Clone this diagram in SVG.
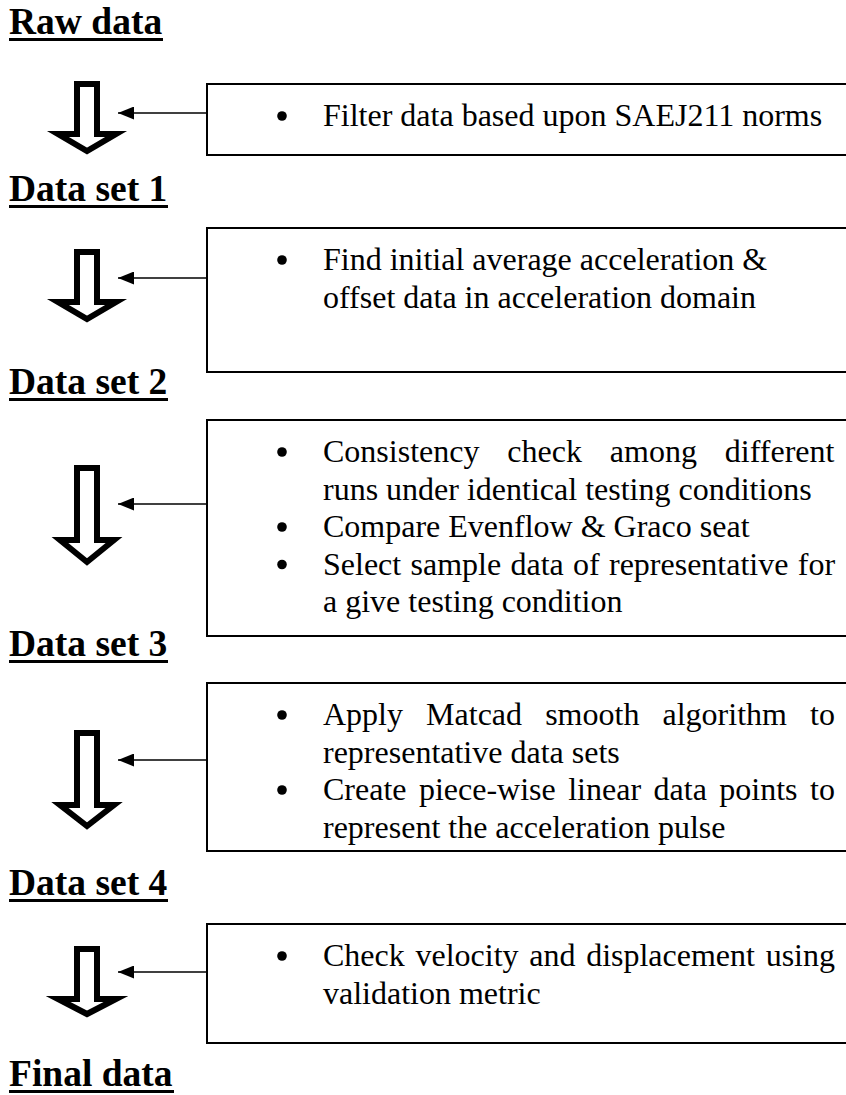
<svg xmlns="http://www.w3.org/2000/svg" width="846" height="1095" viewBox="0 0 846 1095">
<defs>
<style>
.h{font-family:"Liberation Serif","Times New Roman",serif;font-weight:bold;font-size:37.5px;fill:#000}
.t{font-family:"Liberation Serif","Times New Roman",serif;font-size:32px;fill:#000}
.box{fill:#fff;stroke:#000;stroke-width:2}
.blk{fill:#fff;stroke:#000;stroke-width:6;stroke-linejoin:miter;stroke-miterlimit:10}
.ln{stroke:#000;stroke-width:1.6;fill:none}
.bul{fill:#000}
</style>
<marker id="ah" viewBox="0 0 10 10" refX="10" refY="5" markerWidth="16" markerHeight="13" markerUnits="userSpaceOnUse" orient="auto" preserveAspectRatio="none"><path d="M0,0 L10,5 L0,10 z" fill="#000"/></marker>
</defs>
<rect width="846" height="1095" fill="#fff"/>

<g id="raw-data"><text class="h" x="9" y="34">Raw data</text><rect x="9" y="38" width="154" height="3"/></g>
<g id="data-set-1"><text class="h" x="9" y="201">Data set 1</text><rect x="9" y="205" width="159" height="3"/></g>
<g id="data-set-2"><text class="h" x="9" y="394">Data set 2</text><rect x="9" y="398" width="159" height="3"/></g>
<g id="data-set-3"><text class="h" x="9" y="656">Data set 3</text><rect x="9" y="660" width="159" height="3"/></g>
<g id="data-set-4"><text class="h" x="9" y="895">Data set 4</text><rect x="9" y="899" width="159" height="3"/></g>
<g id="final-data"><text class="h" x="9" y="1086">Final data</text><rect x="9" y="1090" width="165" height="3"/></g>

<g id="step-1">
<rect class="box" x="207" y="84" width="700" height="71"/>
<circle class="bul" cx="282" cy="116" r="4.8"/>
<text class="t" x="323" y="126">Filter data based upon SAEJ211 norms</text>
</g>
<g id="step-2">
<rect class="box" x="207" y="228" width="700" height="144"/>
<circle class="bul" cx="282" cy="260" r="4.8"/>
<text class="t" x="323" y="270">Find initial average acceleration &amp;</text>
<text class="t" x="323" y="307.5">offset data in acceleration domain</text>
</g>
<g id="step-3">
<rect class="box" x="207" y="420" width="700" height="216"/>
<circle class="bul" cx="282" cy="452" r="4.8"/>
<text class="t" x="323" y="462" word-spacing="19.9">Consistency check among different</text>
<text class="t" x="323" y="499.5">runs under identical testing conditions</text>
<circle class="bul" cx="282" cy="527" r="4.8"/>
<text class="t" x="323" y="537">Compare Evenflow &amp; Graco seat</text>
<circle class="bul" cx="282" cy="564.5" r="4.8"/>
<text class="t" x="323" y="574.5" word-spacing="1.3">Select sample data of representative for</text>
<text class="t" x="323" y="612">a give testing condition</text>
</g>
<g id="step-4">
<rect class="box" x="207" y="683" width="700" height="168"/>
<circle class="bul" cx="282" cy="715" r="4.8"/>
<text class="t" x="323" y="725" word-spacing="15.1">Apply Matcad smooth algorithm to</text>
<text class="t" x="323" y="762.5">representative data sets</text>
<circle class="bul" cx="282" cy="790" r="4.8"/>
<text class="t" x="323" y="800" word-spacing="4.46">Create piece-wise linear data points to</text>
<text class="t" x="323" y="837.5">represent the acceleration pulse</text>
</g>
<g id="step-5">
<rect class="box" x="207" y="924" width="700" height="119"/>
<circle class="bul" cx="282" cy="956" r="4.8"/>
<text class="t" x="323" y="966" word-spacing="2.7">Check velocity and displacement using</text>
<text class="t" x="323" y="1003.5">validation metric</text>
</g>

<g id="connectors">
<polygon class="blk" points="77,84 97,84 97,134 116,134 87,151 58,134 77,134"/>
<polygon class="blk" points="77,252 97,252 97,302 116,302 87,319 58,302 77,302"/>
<polygon class="blk" points="77,468 97,468 97,540 114,540 87,562 60,540 77,540"/>
<polygon class="blk" points="77,733 97,733 97,805 114,805 87,826 60,805 77,805"/>
<polygon class="blk" points="77,949 97,949 97,999 116,999 87,1014 58,999 77,999"/>
<line class="ln" x1="207" y1="113" x2="118" y2="113" marker-end="url(#ah)"/>
<line class="ln" x1="207" y1="278" x2="118" y2="278" marker-end="url(#ah)"/>
<line class="ln" x1="207" y1="504" x2="118" y2="504" marker-end="url(#ah)"/>
<line class="ln" x1="207" y1="760" x2="118" y2="760" marker-end="url(#ah)"/>
<line class="ln" x1="207" y1="972" x2="118" y2="972" marker-end="url(#ah)"/>
</g>
</svg>
